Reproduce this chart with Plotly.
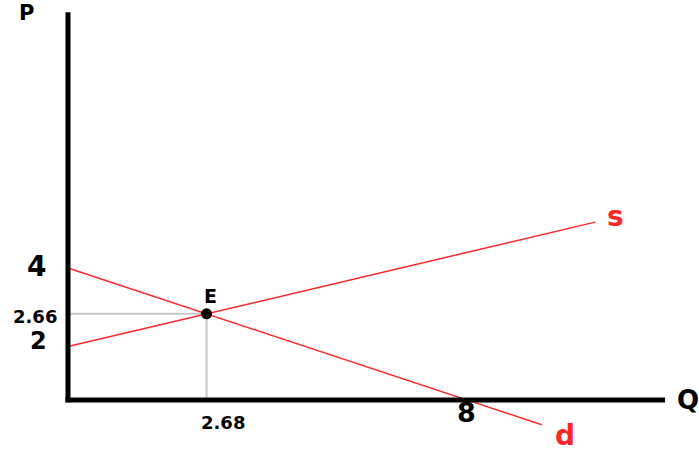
import plotly.graph_objects as go

# ---- data ----
demand_q = [0.0, 9.5]
demand_p = [4.0, -0.75]
supply_q = [0.0, 10.57]
supply_p = [1.62, 5.39]

y_tick_labels = ["4", "2.66", "2"]
x_tick_labels = ["2.68", "8"]
axis_titles = ["P", "Q"]
curve_labels = ["s", "d"]
point_label = "E"

# equilibrium from the two drawn lines
sd = (demand_p[1] - demand_p[0]) / (demand_q[1] - demand_q[0])
ss = (supply_p[1] - supply_p[0]) / (supply_q[1] - supply_q[0])
eq_q = (supply_p[0] - demand_p[0]) / (sd - ss)
eq_p = demand_p[0] + sd * eq_q

RED = "#ff2626"
FONT = "DejaVu Sans"

fig = go.Figure()

# guide lines to E
fig.add_trace(go.Scatter(x=[0, eq_q, eq_q], y=[eq_p, eq_p, 0], mode="lines",
                         line=dict(color="#c8c8c8", width=2), hoverinfo="skip"))
# demand & supply
fig.add_trace(go.Scatter(x=demand_q, y=demand_p, mode="lines",
                         line=dict(color=RED, width=1.5)))
fig.add_trace(go.Scatter(x=supply_q, y=supply_p, mode="lines",
                         line=dict(color=RED, width=1.5)))
# axes
fig.add_trace(go.Scatter(x=[0, 0], y=[-0.07, 11.75], mode="lines",
                         line=dict(color="black", width=5)))
fig.add_trace(go.Scatter(x=[-0.05, 11.97], y=[0, 0], mode="lines",
                         line=dict(color="black", width=5)))
# equilibrium point
fig.add_trace(go.Scatter(x=[eq_q], y=[eq_p], mode="markers",
                         marker=dict(color="black", size=11)))

ann = []
def lab(text, x, y, size, color="black"):
    ann.append(dict(text="<b>%s</b>" % text, x=x, y=y, xref="x", yref="y",
                    showarrow=False, font=dict(family=FONT, size=size, color=color),
                    xanchor="center", yanchor="middle"))

lab(axis_titles[0], -0.84, 11.72, 21)
lab(axis_titles[1], 12.43, 0.0, 26)
lab(y_tick_labels[0], -0.63, 4.06, 28)
lab(y_tick_labels[1], -0.66, 2.53, 18)
lab(y_tick_labels[2], -0.59, 1.79, 24)
lab(x_tick_labels[0], 3.10, -0.68, 18)
lab(x_tick_labels[1], 7.99, -0.39, 27)
lab(point_label, 2.85, 3.14, 19)
lab(curve_labels[0], 10.97, 5.56, 28, RED)
lab(curve_labels[1], 9.96, -1.08, 28, RED)

fig.update_layout(
    width=699, height=457,
    margin=dict(l=0, r=0, t=0, b=0),
    paper_bgcolor="white", plot_bgcolor="white",
    showlegend=False,
    xaxis=dict(range=[-1.363, 12.652], visible=False, fixedrange=True),
    yaxis=dict(range=[-1.727, 12.121], visible=False, fixedrange=True),
    annotations=ann,
)

fig.write_html("out.html", config={"displayModeBar": False},
               post_script="document.body.style.margin='0px';document.body.style.overflow='hidden';")
